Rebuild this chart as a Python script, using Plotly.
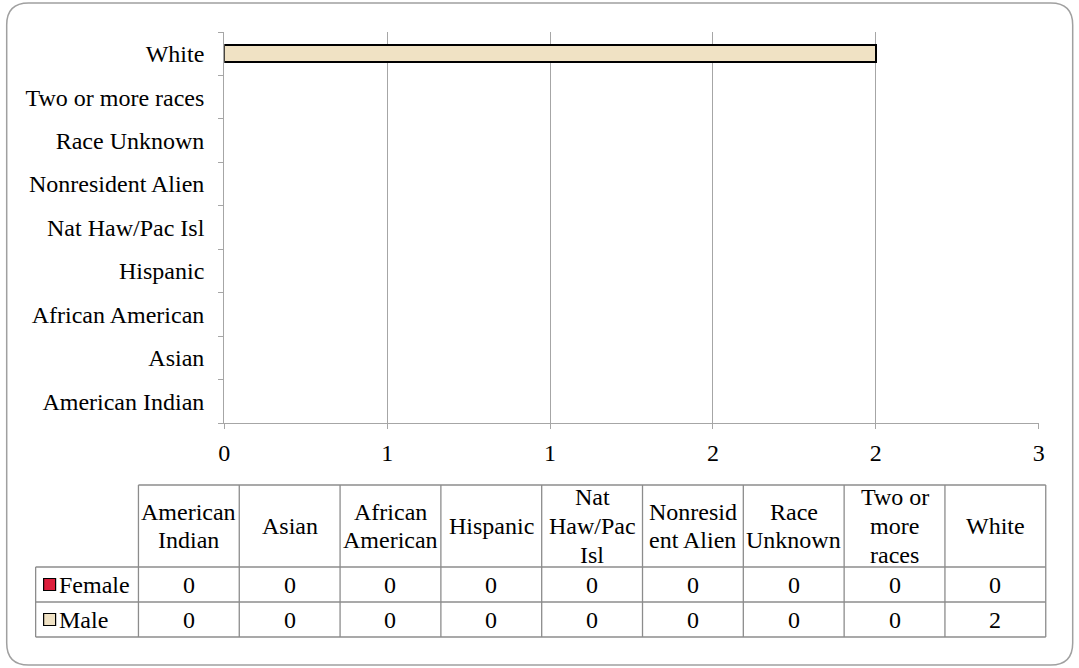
import plotly.graph_objects as go

# ---------------- data ----------------
categories = ["American Indian", "Asian", "African American", "Hispanic",
              "Nat Haw/Pac Isl", "Nonresident Alien", "Race Unknown",
              "Two or more races", "White"]
female = [0, 0, 0, 0, 0, 0, 0, 0, 0]
male = [0, 0, 0, 0, 0, 0, 0, 0, 2]
table_headers = ["American\nIndian", "Asian", "African\nAmerican", "Hispanic",
                 "Nat\nHaw/Pac\nIsl", "Nonresid\nent Alien", "Race\nUnknown",
                 "Two or\nmore\nraces", "White"]
x_tick_values = [0, 0.5, 1, 1.5, 2, 2.5]
x_tick_labels = ["0", "1", "1", "2", "2", "3"]
series_names = ["Female", "Male"]
series_colors = ["#DC1E3C", "#F0E2C4"]

# ---------------- layout helpers ----------------
H = 668
OX, WV = 5.3, 1069.0   # observed horizontal placement of the page in the picture
FONT = "Liberation Serif"
FS = 24
GRID = "#A6A6A6"
TLINE = "#8C8C8C"


def px(x):
    return (x - OX) / WV


def py(y):
    return 1 - y / H


fig = go.Figure()
series_values = [female, male]
for name, vals, col in zip(series_names, series_values, series_colors):
    fig.add_trace(go.Bar(
        y=categories, x=vals, orientation="h", name=name,
        marker=dict(color=col,
                    line=dict(color="black", width=[2 if v > 0 else 0 for v in vals])),
        showlegend=False, hoverinfo="skip",
    ))

shapes = []
annotations = []

# outer rounded border
x0, y0, x1, y1, r = 6, 3, 1074, 665, 22
path = (f"M {px(x0 + r)},{py(y0)} L {px(x1 - r)},{py(y0)} "
        f"Q {px(x1)},{py(y0)} {px(x1)},{py(y0 + r)} "
        f"L {px(x1)},{py(y1 - r)} Q {px(x1)},{py(y1)} {px(x1 - r)},{py(y1)} "
        f"L {px(x0 + r)},{py(y1)} Q {px(x0)},{py(y1)} {px(x0)},{py(y1 - r)} "
        f"L {px(x0)},{py(y0 + r)} Q {px(x0)},{py(y0)} {px(x0 + r)},{py(y0)} Z")
shapes.append(dict(type="path", xref="paper", yref="paper", path=path,
                   line=dict(color="#A0A0A0", width=1.5)))

# data table geometry
tab_left = 35
col_left = 138
col_w = 101
n = len(categories)
tab_right = col_left + col_w * n
row_top = 485
row_head_bot = 567
row_h = 35
rows_y = [row_head_bot + i * row_h for i in range(len(series_names) + 1)]


def hline(xa, xb, y):
    shapes.append(dict(type="line", xref="paper", yref="paper",
                       x0=px(xa), x1=px(xb), y0=py(y), y1=py(y),
                       line=dict(color=TLINE, width=1.3)))


def vline(x, ya, yb):
    shapes.append(dict(type="line", xref="paper", yref="paper",
                       x0=px(x), x1=px(x), y0=py(ya), y1=py(yb),
                       line=dict(color=TLINE, width=1.3)))


hline(col_left, tab_right, row_top)
for yy in rows_y:
    hline(tab_left, tab_right, yy)
vline(tab_left, rows_y[0], rows_y[-1])
for i in range(n + 1):
    vline(col_left + i * col_w, row_top, rows_y[-1])

# header text (line by line for tight line spacing)
head_mid = 526
line_sp = 28.5
for i, lab in enumerate(table_headers):
    lines = lab.split("\n")
    cx = col_left + col_w * (i + 0.5)
    for j, ln in enumerate(lines):
        yy = head_mid + (j - (len(lines) - 1) / 2) * line_sp
        annotations.append(dict(x=px(cx), y=py(yy), xref="paper", yref="paper",
                                text=ln, showarrow=False, xanchor="center",
                                yanchor="middle",
                                font=dict(family=FONT, size=FS, color="black")))

# value rows + legend keys
for r_i, (name, vals, col) in enumerate(zip(series_names, series_values, series_colors)):
    cy = rows_y[r_i] + row_h / 2
    for i, v in enumerate(vals):
        cx = col_left + col_w * (i + 0.5)
        annotations.append(dict(x=px(cx), y=py(cy + 0.5), xref="paper", yref="paper",
                                text=str(v), showarrow=False, xanchor="center",
                                yanchor="middle",
                                font=dict(family=FONT, size=FS, color="black")))
    shapes.append(dict(type="rect", xref="paper", yref="paper",
                       x0=px(43), x1=px(55), y0=py(cy - 6), y1=py(cy + 6),
                       fillcolor=col, line=dict(color="black", width=1.2)))
    annotations.append(dict(x=px(56), y=py(cy + 0.5), xref="paper", yref="paper",
                            text=name, showarrow=False, xanchor="left",
                            yanchor="middle",
                            font=dict(family=FONT, size=FS, color="black")))

fig.update_layout(
    autosize=True,
    margin=dict(l=0, r=0, t=0, b=0),
    paper_bgcolor="white", plot_bgcolor="white",
    barmode="stack", bargap=0.6,
    font=dict(family=FONT, size=FS, color="black"),
    xaxis=dict(domain=[px(224), px(1040)], range=[0, 2.5], fixedrange=True,
               tickmode="array", tickvals=x_tick_values, ticktext=x_tick_labels,
               showgrid=True, gridcolor=GRID, gridwidth=1,
               showline=True, linecolor=GRID, linewidth=1.3,
               ticks="outside", ticklen=5, tickcolor=GRID, tickwidth=1.3,
               zeroline=False, ticklabelstandoff=3,
               tickfont=dict(family=FONT, size=FS, color="black")),
    yaxis=dict(domain=[py(423), py(32)], fixedrange=True,
               categoryorder="array", categoryarray=categories,
               showgrid=False, showline=True, linecolor=GRID, linewidth=1.3,
               ticks="outside", tickson="boundaries", ticklen=5,
               tickcolor=GRID, tickwidth=1.3, ticklabelstandoff=14,
               tickfont=dict(family=FONT, size=FS, color="black")),
    shapes=shapes,
    annotations=annotations,
)

fig.write_html(
    "out.html",
    default_width="100vw", default_height="100vh",
    config={"displayModeBar": False, "responsive": True},
    post_script=("document.documentElement.style.margin='0';"
                 "document.body.style.margin='0';"
                 "document.body.style.overflow='hidden';"
                 "var gd=document.getElementById('{plot_id}');"
                 "gd.style.width='100vw';gd.style.height='100vh';"
                 "Plotly.Plots.resize(gd);"),
)
